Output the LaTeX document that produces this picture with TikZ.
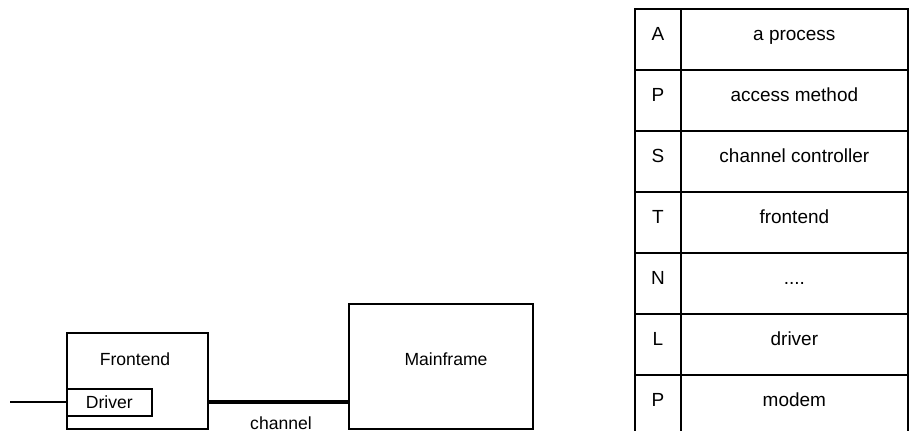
\documentclass[tikz,border=0pt]{standalone}
\usepackage{fontspec}
\setmainfont{Liberation Sans}
\newcommand\fourdots{....}
\begin{document}
\begin{tikzpicture}[x=0.02cm,y=-0.02cm,line width=1pt,
  box/.style={draw,rectangle,inner sep=0pt,anchor=north west},
  cell/.style={draw,rectangle,inner sep=0pt,minimum height=1.22cm,anchor=north west},
  celltext/.style={anchor=base,font=\fontsize{10.8}{13}\selectfont}]
        \useasboundingbox (0,0) rectangle (910,431);
        % left side
        \node[box,minimum width=2.82cm,minimum height=1.92cm] (frontend) at (66,332) {};
        \node[box,minimum width=1.7cm,minimum height=0.54cm] (driver) at (66,388) {};
        \node[box,minimum width=3.68cm,minimum height=2.5cm] (mainframe) at (348,303) {};
        \node (fetext) at (135,359) {Frontend};
        \node (drtext) at (driver.center) {Driver};
        \node (mftext) at (446,359) {Mainframe};
        \coordinate (linein) at (10,400);
        \draw (linein |- driver.west) -- (driver.west);
        \draw[line width=2.4pt] (frontend.east |- driver.west) -- (mainframe.west |- driver.west);
        \node (chtext) at (281,423) {channel};
        % table
        \foreach \l/\t [count=\i from 0] in {A/a process,P/access method,S/channel controller,T/frontend,N/\fourdots,L/driver,P/modem} {
          \node[cell,minimum width=0.92cm] (key\i) at (634,8+61*\i) {};
          \node[cell,minimum width=4.54cm] (val\i) at (680,8+61*\i) {};
          \node[celltext] at ([yshift=-0.03cm]key\i.center) {\l};
          \node[celltext] at ([yshift=-0.03cm]val\i.center) {\t};
        }
\end{tikzpicture}
\end{document}
